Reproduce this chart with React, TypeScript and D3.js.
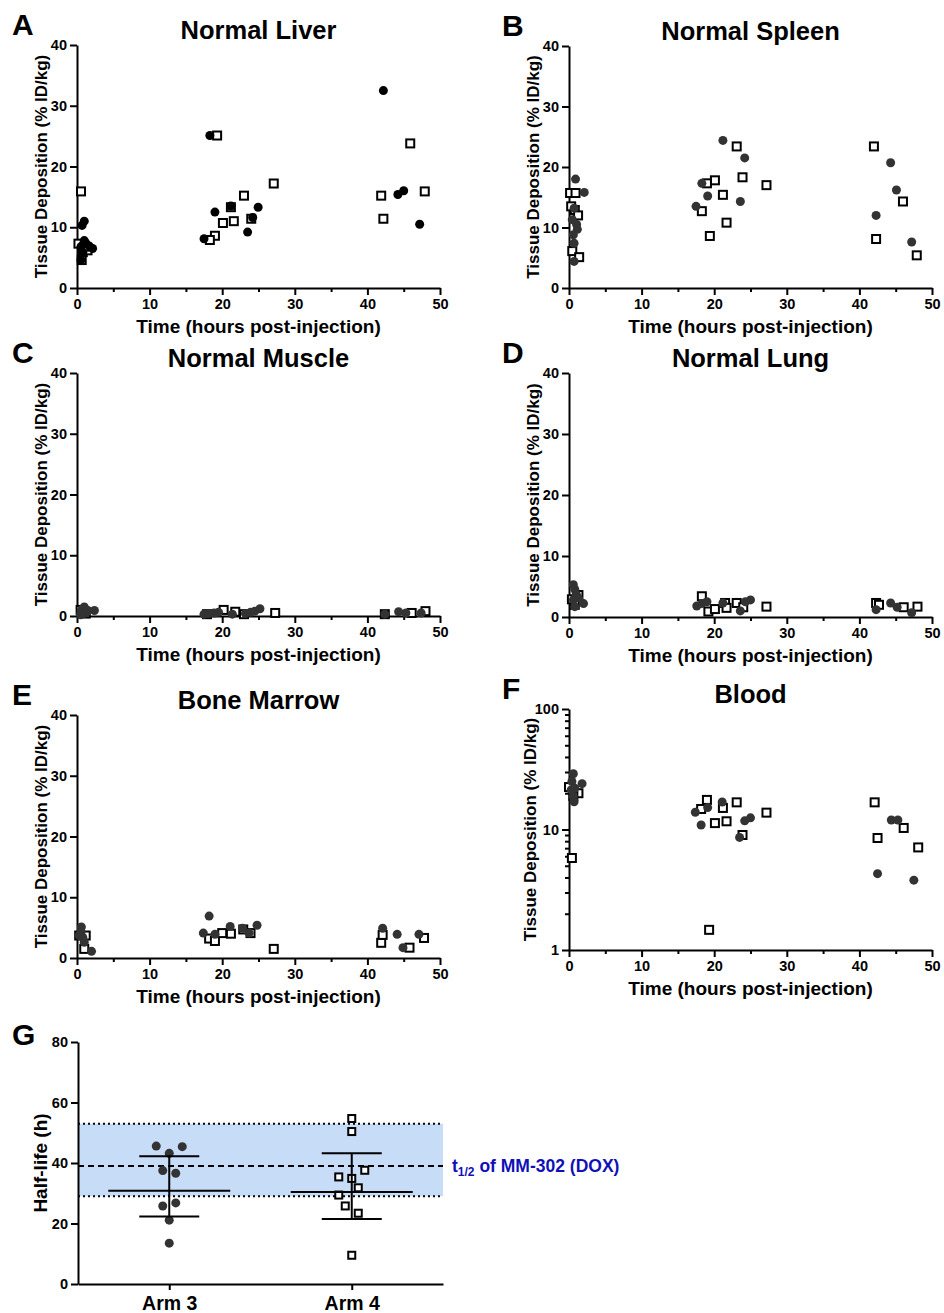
import React, { useEffect, useRef } from 'react';
import * as d3 from 'd3';

// [hours post-injection, % ID/kg] ; arm3 = filled circles, arm4 = open squares
const liverArm3 = [[1.0, 11.0], [0.7, 10.3], [1.0, 7.8], [2.15, 6.5], [1.7, 6.9], [0.55, 6.8], [0.8, 5.9], [0.55, 4.6], [1.2, 7.4],
  [18.3, 25.1], [19.0, 12.5], [17.5, 8.1], [21.2, 13.5], [23.5, 9.2], [24.2, 11.6], [24.95, 13.3],
  [42.2, 32.5], [44.2, 15.4], [45.0, 16.0], [47.2, 10.5]];
const liverArm4 = [[0.55, 15.9], [0.2, 7.3], [0.65, 4.6], [0.8, 5.9], [1.45, 6.2], [1.0, 6.8],
  [19.3, 25.1], [27.1, 17.2], [23.0, 15.2], [21.2, 13.3], [20.1, 10.7], [21.6, 11.0], [24.0, 11.4], [19.0, 8.6], [18.3, 7.9],
  [45.9, 23.8], [41.9, 15.2], [42.2, 11.4], [47.9, 15.9]];

const spleenArm3 = [[0.9, 18.0], [2.1, 15.8], [0.7, 13.2], [1.05, 10.5], [1.15, 9.7], [0.6, 8.8], [0.7, 7.4], [0.7, 4.4], [0.45, 11.3],
  [21.2, 24.4], [24.2, 21.5], [18.3, 17.3], [19.1, 15.2], [17.5, 13.5], [23.6, 14.3],
  [44.3, 20.7], [45.1, 16.2], [42.3, 12.0], [47.2, 7.6]];
const spleenArm4 = [[0.15, 15.7], [0.9, 15.7], [0.8, 12.9], [1.25, 12.0], [0.45, 6.1], [1.4, 5.1], [0.3, 13.5],
  [23.1, 23.4], [20.1, 17.8], [19.0, 17.3], [23.9, 18.3], [27.2, 17.0], [21.2, 15.4], [18.3, 12.7], [21.7, 10.8], [19.4, 8.6],
  [42.0, 23.4], [42.3, 8.1], [46.0, 14.3], [47.9, 5.4]];

const muscleArm3 = [[1.0, 1.5], [2.4, 0.9], [0.8, 0.4], [1.5, 0.9], [0.55, 0.7], [0.7, 1.1], [1.2, 0.5], [0.5, 0.2],
  [17.5, 0.3], [18.2, 0.4], [18.9, 0.5], [19.5, 0.6], [21.4, 0.3], [23.2, 0.4], [23.9, 0.6], [24.5, 0.8], [25.2, 1.2],
  [42.4, 0.3], [44.3, 0.7], [45.3, 0.5], [47.4, 0.5]];
const muscleArm4 = [[0.8, 0.7], [1.2, 0.4], [0.5, 1.0],
  [17.9, 0.3], [20.2, 1.0], [21.8, 0.7], [23.0, 0.3], [27.3, 0.5],
  [42.4, 0.3], [46.1, 0.5], [48.0, 0.8]];

const lungArm3 = [[0.6, 5.3], [0.8, 4.5], [1.0, 3.7], [0.6, 2.8], [1.3, 3.1], [2.0, 2.2], [0.8, 1.7],
  [17.6, 1.8], [18.3, 2.2], [19.0, 2.5], [21.2, 2.3], [23.6, 1.0], [24.3, 2.5], [25.0, 2.8],
  [42.3, 1.2], [44.3, 2.3], [45.2, 1.6], [47.2, 0.7]];
const lungArm4 = [[0.4, 2.9], [1.3, 3.6], [0.8, 2.0],
  [18.3, 3.4], [19.2, 0.9], [20.1, 1.3], [21.5, 2.3], [21.7, 1.5], [23.1, 2.3], [24.0, 1.6], [27.2, 1.7],
  [42.3, 2.3], [42.7, 2.0], [46.1, 1.6], [48.0, 1.7]];

const marrowArm3 = [[0.6, 5.1], [0.55, 4.3], [0.8, 3.4], [1.0, 2.6], [2.0, 1.1], [0.3, 3.7],
  [18.2, 6.9], [17.4, 4.1], [19.0, 3.9], [21.1, 5.2], [22.8, 4.9], [23.7, 4.1], [24.8, 5.4],
  [42.1, 4.9], [44.1, 3.9], [44.9, 1.7], [47.1, 3.9]];
const marrowArm4 = [[1.2, 3.7], [0.3, 3.7], [1.0, 1.5],
  [18.2, 3.2], [19.0, 2.8], [20.0, 4.1], [21.2, 4.0], [22.9, 4.7], [23.9, 4.1], [27.1, 1.5],
  [41.9, 2.5], [42.1, 3.8], [45.8, 1.7], [47.8, 3.3]];

const bloodArm3 = [[0.6, 29], [0.4, 25], [0.8, 22], [1.8, 24], [0.6, 18.8], [0.7, 17], [0.3, 21.3],
  [17.4, 13.9], [18.2, 10.9], [19.1, 15.2], [21.1, 16.9], [23.5, 8.6], [24.2, 11.8], [25.0, 12.5],
  [42.5, 4.3], [44.4, 12.0], [45.3, 12.0], [47.5, 3.8]];
const bloodArm4 = [[0.0, 22.5], [1.3, 20], [0.4, 5.8], [0.6, 19],
  [19.0, 17.6], [18.2, 14.8], [20.1, 11.3], [21.2, 15.1], [21.7, 11.7], [23.1, 16.8], [23.9, 9.0], [27.2, 13.8], [19.3, 1.47],
  [42.1, 16.8], [42.5, 8.5], [46.1, 10.3], [48.1, 7.1]];

// half-life panel
const arms = ['Arm 3', 'Arm 4'];
const halfLifeArm3 = [45.6, 45.4, 43.2, 37.5, 36.6, 25.8, 26.8, 21.1, 13.5];
const jitterArm3 = [-2, 2, 0, -1, 1, -1, 1, 0, 0];
const halfLifeArm4 = [54.7, 50.4, 37.6, 35.4, 34.9, 31.8, 29.4, 25.8, 23.4, 9.5];
const jitterArm4 = [0, 0, 2, -2, 0, 1, -2, -1, 1, 0];
const armMean = [30.8, 30.4];
const armUpper = [42.2, 43.2];
const armLower = [22.3, 21.5];
const doxHalfLife = 39;
const doxRange = [29, 53];

const timeTicks = [0, 5, 10, 15, 20, 25, 30, 35, 40, 45, 50];
const depTicks = [0, 10, 20, 30, 40];
const logTicks = [1, 2, 3, 4, 5, 6, 7, 8, 9, 10, 20, 30, 40, 50, 60, 70, 80, 90, 100];
const halfTicks = [0, 20, 40, 60, 80];

const FONT = '"Liberation Sans", Arial, Helvetica, sans-serif';
const DARK = '#333333';

const panels = [
  { letter: 'A', title: 'Normal Liver', a3: liverArm3, a4: liverArm4, left: 77, right: 440, top: 45, bottom: 288, col: 0, dot: '#000' },
  { letter: 'B', title: 'Normal Spleen', a3: spleenArm3, a4: spleenArm4, left: 569, right: 932, top: 46, bottom: 288, col: 1, dot: DARK },
  { letter: 'C', title: 'Normal Muscle', a3: muscleArm3, a4: muscleArm4, left: 77, right: 440, top: 373, bottom: 616, col: 0, dot: DARK },
  { letter: 'D', title: 'Normal Lung', a3: lungArm3, a4: lungArm4, left: 569, right: 932, top: 373, bottom: 617, col: 1, dot: DARK },
  { letter: 'E', title: 'Bone Marrow', a3: marrowArm3, a4: marrowArm4, left: 77, right: 440, top: 715, bottom: 958, col: 0, dot: DARK },
  { letter: 'F', title: 'Blood', a3: bloodArm3, a4: bloodArm4, left: 569, right: 932, top: 709, bottom: 950, col: 1, dot: DARK, log: true },
];

function styleAxis(ax, size) {
  ax.attr('font-family', FONT).attr('font-size', size).attr('font-weight', 'bold');
  ax.select('.domain').attr('stroke', '#000').attr('stroke-width', 2);
  ax.selectAll('.tick line').attr('stroke', '#000').attr('stroke-width', 2);
  ax.selectAll('.tick text').attr('fill', '#000');
}

function drawPanel(svg, p) {
  const g = svg.append('g');
  const x = d3.scaleLinear().domain([0, 50]).range([p.left, p.right]);
  const y = p.log
    ? d3.scaleLog().domain([1, 100]).range([p.bottom, p.top])
    : d3.scaleLinear().domain([0, 40]).range([p.bottom, p.top]);

  const xa = g.append('g').attr('transform', `translate(0,${p.bottom})`)
    .call(d3.axisBottom(x).tickValues(timeTicks).tickSize(7).tickSizeOuter(0).tickPadding(4)
      .tickFormat(d => (d % 10 === 0 ? String(d) : '')));
  styleAxis(xa, 14.5);
  xa.selectAll('.tick line').attr('y2', d => (d % 10 === 0 ? 7 : 4));

  const ya = g.append('g').attr('transform', `translate(${p.left},0)`)
    .call(d3.axisLeft(y).tickValues(p.log ? logTicks : depTicks).tickSize(7).tickSizeOuter(0).tickPadding(3)
      .tickFormat(d => (p.log ? ([1, 10, 100].includes(d) ? String(d) : '') : String(d))));
  styleAxis(ya, 14.5);
  if (p.log) ya.selectAll('.tick line').attr('x2', d => ([1, 10, 100].includes(d) ? -7 : -4));

  // markers: squares below, circles on top
  g.append('g').selectAll('rect').data(p.a4).join('rect')
    .attr('x', d => x(d[0]) - 4).attr('y', d => y(d[1]) - 4)
    .attr('width', 8).attr('height', 8)
    .attr('fill', '#fff').attr('stroke', '#000').attr('stroke-width', 2);
  g.append('g').selectAll('circle').data(p.a3).join('circle')
    .attr('cx', d => x(d[0])).attr('cy', d => y(d[1])).attr('r', 4.5)
    .attr('fill', p.dot);

  const cx = (p.left + p.right) / 2;
  g.append('text').attr('x', cx).attr('y', p.top - 6).attr('text-anchor', 'middle')
    .attr('font-family', FONT).attr('font-weight', 'bold').attr('font-size', 25.5).text(p.title);
  g.append('text').attr('x', p.col === 0 ? 12 : 502).attr('y', p.top - 10)
    .attr('font-family', FONT).attr('font-weight', 'bold').attr('font-size', 30).text(p.letter);
  g.append('text').attr('x', cx).attr('y', p.bottom + 45).attr('text-anchor', 'middle')
    .attr('font-family', FONT).attr('font-weight', 'bold').attr('font-size', 19).text('Time (hours post-injection)');
  g.append('text')
    .attr('transform', `translate(${p.left - (p.log ? 33 : 30)},${(p.top + p.bottom) / 2}) rotate(-90)`)
    .attr('text-anchor', 'middle')
    .attr('font-family', FONT).attr('font-weight', 'bold').attr('font-size', 17).text('Tissue Deposition (% ID/kg)');
}

function drawHalfLife(svg) {
  const left = 78, right = 443, top = 1042, bottom = 1284;
  const g = svg.append('g');
  const x = d3.scalePoint().domain(arms).range([left, right]).padding(0.5);
  const y = d3.scaleLinear().domain([0, 80]).range([bottom, top]);

  g.append('rect').attr('x', left).attr('width', right - left)
    .attr('y', y(doxRange[1])).attr('height', y(doxRange[0]) - y(doxRange[1]))
    .attr('fill', '#c7dcf6');
  doxRange.forEach(v => {
    g.append('line').attr('x1', left).attr('x2', right).attr('y1', y(v)).attr('y2', y(v))
      .attr('stroke', '#000').attr('stroke-width', 2).attr('stroke-dasharray', '2,3');
  });
  g.append('line').attr('x1', left).attr('x2', right).attr('y1', y(doxHalfLife)).attr('y2', y(doxHalfLife))
    .attr('stroke', '#000').attr('stroke-width', 2).attr('stroke-dasharray', '6,4');

  const xa = g.append('g').attr('transform', `translate(0,${bottom})`)
    .call(d3.axisBottom(x).tickSize(6).tickSizeOuter(0).tickPadding(6));
  styleAxis(xa, 19.5);
  const ya = g.append('g').attr('transform', `translate(${left},0)`)
    .call(d3.axisLeft(y).tickValues(halfTicks).tickSize(7).tickSizeOuter(0).tickPadding(3));
  styleAxis(ya, 14.5);

  const unit = 6.5;
  g.append('g').selectAll('circle').data(halfLifeArm3).join('circle')
    .attr('cx', (d, i) => x('Arm 3') + jitterArm3[i] * unit).attr('cy', d => y(d)).attr('r', 4.5)
    .attr('fill', DARK);
  g.append('g').selectAll('rect').data(halfLifeArm4).join('rect')
    .attr('x', (d, i) => x('Arm 4') + jitterArm4[i] * unit - 3.5).attr('y', d => y(d) - 3.5)
    .attr('width', 7).attr('height', 7)
    .attr('fill', '#fff').attr('stroke', '#000').attr('stroke-width', 2);

  arms.forEach((a, i) => {
    const cx = x(a);
    const bars = [[cx - 61, cx + 61, armMean[i]], [cx - 30, cx + 30, armUpper[i]], [cx - 30, cx + 30, armLower[i]]];
    bars.forEach(b => g.append('line').attr('x1', b[0]).attr('x2', b[1]).attr('y1', y(b[2])).attr('y2', y(b[2]))
      .attr('stroke', '#000').attr('stroke-width', 2));
    g.append('line').attr('x1', cx).attr('x2', cx).attr('y1', y(armLower[i])).attr('y2', y(armUpper[i]))
      .attr('stroke', '#000').attr('stroke-width', 2);
  });

  const t = g.append('text').attr('x', right + 9).attr('y', y(doxHalfLife) + 6)
    .attr('font-family', FONT).attr('font-weight', 'bold').attr('font-size', 17.5).attr('fill', '#1010b8');
  t.append('tspan').text('t');
  t.append('tspan').attr('font-size', 12).attr('dy', 4).text('1/2');
  t.append('tspan').attr('dy', -4).text(' of MM-302 (DOX)');

  g.append('text').attr('x', 12).attr('y', 1045)
    .attr('font-family', FONT).attr('font-weight', 'bold').attr('font-size', 30).text('G');
  g.append('text').attr('transform', `translate(${left - 31},${(top + bottom) / 2}) rotate(-90)`)
    .attr('text-anchor', 'middle')
    .attr('font-family', FONT).attr('font-weight', 'bold').attr('font-size', 19).text('Half-life (h)');
}

export default function App() {
  const ref = useRef(null);
  useEffect(() => {
    const svg = d3.select(ref.current);
    svg.selectAll('*').remove();
    panels.forEach(p => drawPanel(svg, p));
    drawHalfLife(svg);
  }, []);
  return (
    <svg ref={ref} width={944} height={1313}
      style={{ position: 'absolute', left: 0, top: 0, background: '#fff' }} />
  );
}
